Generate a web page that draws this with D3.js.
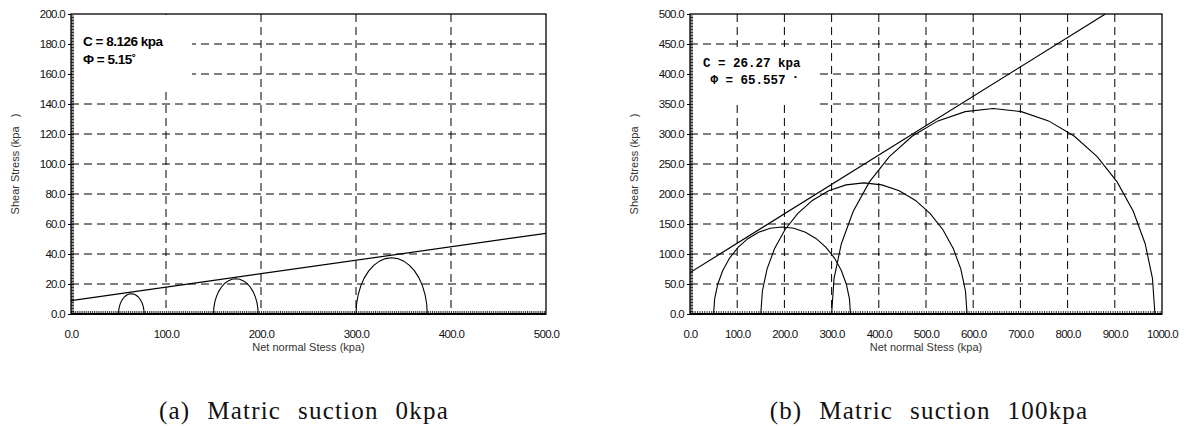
<!DOCTYPE html>
<html>
<head>
<meta charset="utf-8">
<script src="https://cdn.jsdelivr.net/npm/d3@7/dist/d3.min.js"></script>
<style>
	body { margin: 0; background: #fff; }
	svg { display: block; }
	.tick text { font-family: "Liberation Sans", Arial, sans-serif; font-size: 11.5px; letter-spacing: -0.7px; fill: #111; }
	.title { font-family: "Liberation Sans", Arial, sans-serif; font-size: 11px; fill: #333; white-space: pre; }
	.caption { font-family: "Liberation Serif", serif; font-size: 25px; letter-spacing: 1.2px; word-spacing: 1px; fill: #111; white-space: pre; }
</style>
</head>
<body>
<svg id="chart" width="1186" height="426"></svg>
<script>
// tick values for both panels
var xTicksA = [0, 100, 200, 300, 400, 500];
var yTicksA = [0, 20, 40, 60, 80, 100, 120, 140, 160, 180, 200];
var xTicksB = [0, 100, 200, 300, 400, 500, 600, 700, 800, 900, 1000];
var yTicksB = [0, 50, 100, 150, 200, 250, 300, 350, 400, 450, 500];

// Mohr circles: minor and major principal stress (kpa)
var sigma3A = [50, 150, 300];
var sigma1A = [77, 197, 375];
var sigma3B = [50, 150, 300];
var sigma1B = [340, 587, 985];

// failure envelopes (normal stress, shear stress)
var envelopeA = [[0, 8.9], [500, 53.8]];
var envelopeB = [[0, 69], [880, 500]];

// annotation text (second entry of each line is a raised mark)
var notesA = [["C = 8.126 kpa", ""], ["\u03A6 = 5.15", "\u02DA"]];
var notesB = [["C = 26.27 kpa", ""], [" \u03A6 = 65.557 ", "\u2022"]];

var svg = d3.select("#chart");

function drawPanel(p) {
	var g = svg.append("g");
	var x = d3.scaleLinear().domain([0, p.xMax]).range([p.left, p.right]);
	var y = d3.scaleLinear().domain([0, p.yMax]).range([p.bottom, p.top]);

	// dashed grid
	g.selectAll(".vgrid")
		.data(p.xTicks.slice(1, -1))
		.enter().append("line")
		.attr("x1", d => x(d)).attr("x2", d => x(d))
		.attr("y1", p.top).attr("y2", p.bottom)
		.attr("stroke", "#000").attr("stroke-dasharray", "8,5");
	g.selectAll(".hgrid")
		.data(p.yTicks.slice(1, -1))
		.enter().append("line")
		.attr("x1", p.left).attr("x2", p.right)
		.attr("y1", d => y(d)).attr("y2", d => y(d))
		.attr("stroke", "#000").attr("stroke-dasharray", "8,5");

	// white box behind the annotation
	g.append("rect")
		.attr("x", p.box[0]).attr("y", p.box[1])
		.attr("width", p.box[2]).attr("height", p.box[3])
		.attr("fill", "#fff");

	var clipId = "clip" + p.id;
	svg.append("clipPath").attr("id", clipId)
		.append("rect")
		.attr("x", p.left).attr("y", p.top)
		.attr("width", p.right - p.left).attr("height", p.bottom - p.top);

	// failure envelope
	g.append("path")
		.datum(p.envelope)
		.attr("clip-path", "url(#" + clipId + ")")
		.attr("d", d3.line().x(d => x(d[0])).y(d => y(d[1])))
		.attr("fill", "none").attr("stroke", "#000").attr("stroke-width", 1.2);

	// half circles, sampled every 10 degrees like the original plot
	var angles = d3.range(0, 181, 10);
	var circles = p.s3.map((s, i) => ({ c: (s + p.s1[i]) / 2, r: (p.s1[i] - s) / 2 }));
	g.selectAll(".circle")
		.data(circles)
		.enter().append("path")
		.attr("d", d => d3.line()
			.x(a => x(d.c - d.r * Math.cos(a * Math.PI / 180)))
			.y(a => y(d.r * Math.sin(a * Math.PI / 180)))(angles))
		.attr("fill", "none").attr("stroke", "#000").attr("stroke-width", 1.1);

	// minor ticks along left and bottom edges
	g.append("g")
		.attr("transform", `translate(${p.left},0)`)
		.call(d3.axisRight(y).tickValues(d3.range(0, p.yMax, p.yMinor)).tickSize(3).tickFormat(""))
		.call(a => a.select(".domain").remove())
		.selectAll("line").attr("stroke", "#000").attr("stroke-width", 0.8);
	g.append("g")
		.attr("transform", `translate(0,${p.bottom})`)
		.call(d3.axisTop(x).tickValues(d3.range(0, p.xMax, p.xMinor)).tickSize(3).tickFormat(""))
		.call(a => a.select(".domain").remove())
		.selectAll("line").attr("stroke", "#000").attr("stroke-width", 0.8);

	// major axes with labels
	g.append("g")
		.attr("transform", `translate(${p.left},0)`)
		.call(d3.axisLeft(y).tickValues(p.yTicks).tickSize(3).tickPadding(3).tickFormat(d3.format(".1f")))
		.call(a => a.select(".domain").remove());
	g.append("g")
		.attr("transform", `translate(0,${p.bottom})`)
		.call(d3.axisBottom(x).tickValues(p.xTicks).tickSize(0).tickPadding(16).tickFormat(d3.format(".1f")))
		.call(a => a.select(".domain").remove());

	// frame
	g.append("rect")
		.attr("x", p.left).attr("y", p.top)
		.attr("width", p.right - p.left).attr("height", p.bottom - p.top)
		.attr("fill", "none").attr("stroke", "#000").attr("stroke-width", 1.3);
	g.append("line")
		.attr("x1", p.left).attr("x2", p.right)
		.attr("y1", p.bottom).attr("y2", p.bottom)
		.attr("stroke", "#000").attr("stroke-width", 2);

	// annotation
	var notes = g.selectAll(".note")
		.data(p.notes)
		.enter().append("text")
		.attr("x", p.noteX).attr("y", (d, i) => p.noteY + i * p.noteStep)
		.attr("font-family", p.noteFont).attr("font-size", p.noteSize)
		.attr("font-weight", "bold").attr("letter-spacing", p.noteSpacing)
		.style("white-space", "pre");
	notes.append("tspan").text(d => d[0]);
	notes.append("tspan")
		.attr("dy", p.markDy).attr("font-size", p.markSize)
		.text(d => d[1]);

	// axis titles
	g.append("text").attr("class", "title")
		.attr("x", (p.left + p.right) / 2).attr("y", p.bottom + 37)
		.attr("text-anchor", "middle")
		.text("Net normal Stess (kpa)");
	g.append("text").attr("class", "title")
		.attr("transform", `translate(${p.left - 52},${(p.top + p.bottom) / 2}) rotate(-90)`)
		.attr("text-anchor", "middle")
		.text("Shear Stress (kpa   )");

	// caption below the chart
	svg.append("text").attr("class", "caption")
		.attr("x", p.captionX).attr("y", 419)
		.attr("text-anchor", "middle")
		.text(p.caption);
}

drawPanel({
	id: "A", left: 71, right: 546, top: 14, bottom: 314,
	xMax: 500, yMax: 200, xMinor: 2, yMinor: 1,
	xTicks: xTicksA, yTicks: yTicksA,
	s3: sigma3A, s1: sigma1A, envelope: envelopeA,
	box: [72, 15, 120, 75],
	notes: notesA, noteX: 83, noteY: 46, noteStep: 18,
	noteFont: "'Liberation Sans', Arial, sans-serif", noteSize: 13.5, noteSpacing: -0.5,
	markSize: 13.5, markDy: 0,
	caption: "(a)  Matric  suction  0kpa", captionX: 304
});

drawPanel({
	id: "B", left: 690, right: 1162, top: 14, bottom: 314,
	xMax: 1000, yMax: 500, xMinor: 5, yMinor: 2.5,
	xTicks: xTicksB, yTicks: yTicksB,
	s3: sigma3B, s1: sigma1B, envelope: envelopeB,
	box: [691, 47, 124, 58],
	notes: notesB, noteX: 703, noteY: 67, noteStep: 17,
	noteFont: "'Liberation Mono', monospace", noteSize: 12.5, noteSpacing: 0,
	markSize: 8, markDy: -5,
	caption: "(b)  Matric  suction  100kpa", captionX: 929
});
</script>
</body>
</html>
